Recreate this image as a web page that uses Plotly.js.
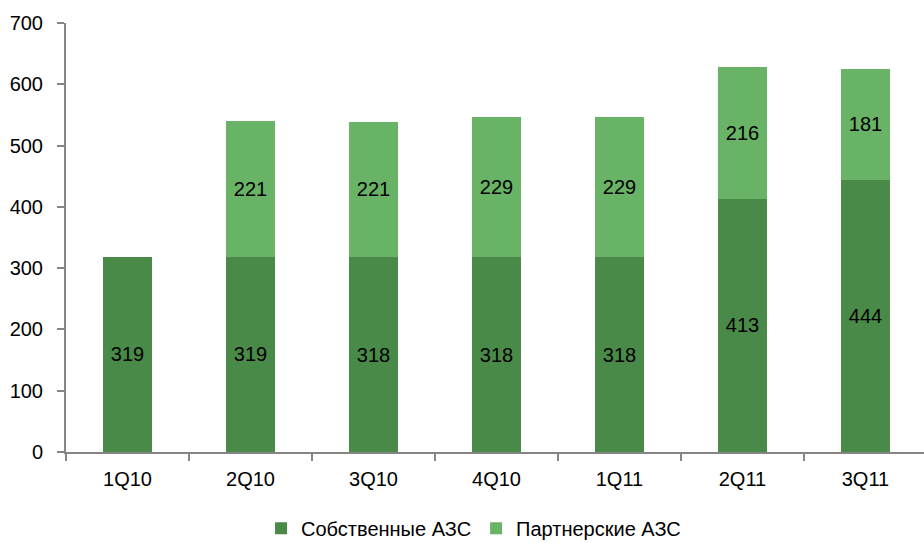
<!DOCTYPE html>
<html>
<head>
<meta charset="utf-8">
<script src="https://cdn.plot.ly/plotly-3.0.1.min.js"></script>
<style>html,body{margin:0;padding:0;background:#fff;}#chart{width:924px;height:543px;}</style>
</head>
<body>
<div id="chart"></div>
<script>
const categories = ["1Q10", "2Q10", "3Q10", "4Q10", "1Q11", "2Q11", "3Q11"];
const ownStations = [319, 319, 318, 318, 318, 413, 444];
const partnerStations = [0, 221, 221, 229, 229, 216, 181];
const seriesNames = ["Собственные АЗС", "Партнерские АЗС"];
const yTicks = [0, 100, 200, 300, 400, 500, 600, 700];

const font = "'Liberation Sans', Arial, sans-serif";

const traces = [
  {
    type: "bar", x: categories, y: ownStations, name: seriesNames[0],
    marker: {color: "#4a8a48"},
    text: ownStations.map(String), textposition: "inside", insidetextanchor: "middle",
    textfont: {color: "#000", size: 20, family: font}, textangle: 0,
    hoverinfo: "skip"
  },
  {
    type: "bar", x: categories, y: partnerStations, name: seriesNames[1],
    marker: {color: "#69b366"},
    text: partnerStations.map(v => v ? String(v) : ""), textposition: "inside", insidetextanchor: "middle",
    textfont: {color: "#000", size: 20, family: font}, textangle: 0,
    hoverinfo: "skip"
  }
];

const layout = {
  width: 924, height: 543,
  margin: {l: 66, r: 0, t: 23, b: 91, autoexpand: false},
  barmode: "stack", bargap: 0.6,
  paper_bgcolor: "#fff", plot_bgcolor: "#fff",
  font: {family: font, size: 20, color: "#000"},
  showlegend: true,
  legend: {orientation: "h", x: 0.475, xanchor: "center", y: -0.178, yanchor: "middle",
           font: {size: 20, family: font}, traceorder: "normal", itemwidth: 30},
  xaxis: {
    showline: true, linecolor: "#868686", linewidth: 2,
    ticks: "outside", tickson: "boundaries", ticklen: 7, tickcolor: "#868686", tickwidth: 2,
    showgrid: false, zeroline: false, tickfont: {size: 20, family: font},
    ticklabelstandoff: 8,
    range: [-0.5, 6.476]
  },
  yaxis: {
    range: [0, 700], tickvals: yTicks, showline: true, linecolor: "#868686", linewidth: 2,
    ticks: "outside", ticklen: 7, tickcolor: "#868686", tickwidth: 2,
    showgrid: false, zeroline: false, tickfont: {size: 20, family: font},
    ticklabelstandoff: 10
  }
};

Plotly.newPlot("chart", traces, layout, {staticPlot: true, displayModeBar: false});
</script>
</body>
</html>
